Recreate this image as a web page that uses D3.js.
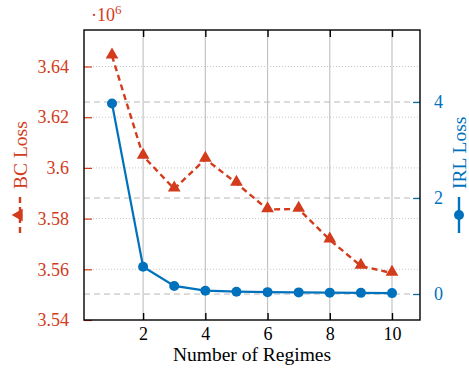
<!DOCTYPE html>
<html>
<head>
<meta charset="utf-8">
<script src="https://cdn.jsdelivr.net/npm/d3@7"></script>
<style>
  body { margin: 0; background: #fff; }
  text { font-family: "Liberation Serif", "Times New Roman", serif; }
</style>
</head>
<body>
<div id="chart"></div>
<script>
// data
const regimes = [1, 2, 3, 4, 5, 6, 7, 8, 9, 10];
const bcLoss = [3.6442, 3.6047, 3.5917, 3.6035, 3.5940, 3.5836, 3.5838, 3.5716, 3.5613, 3.5585];
const irlLoss = [3.97, 0.57, 0.17, 0.07, 0.05, 0.04, 0.035, 0.03, 0.025, 0.02];
const xTicks = [2, 4, 6, 8, 10];
const bcTicks = [3.54, 3.56, 3.58, 3.60, 3.62, 3.64];
const irlTicks = [0, 2, 4];

const red = "#d23b1b";
const blue = "#0072bd";
const fnt = "Liberation Serif";

const width = 469, height = 377;
const m = {left: 84, right: 49, top: 30, bottom: 57};
const x0 = m.left, x1 = width - m.right, y0 = height - m.bottom, y1 = m.top;

const svg = d3.select("#chart").append("svg")
  .attr("width", width)
  .attr("height", height);

const x = d3.scaleLinear().domain([0.1, 10.9]).range([x0, x1]);
const yL = d3.scaleLinear().domain([3.54, 3.6544]).range([y0, y1]);
const yR = d3.scaleLinear().domain([-0.54, 5.5]).range([y0, y1]);

// grid
svg.append("g").selectAll("line")
  .data(xTicks).enter().append("line")
  .attr("x1", d => x(d)).attr("x2", d => x(d))
  .attr("y1", y1).attr("y2", y0)
  .attr("stroke", "#c4c4c4").attr("stroke-width", 1.2);

svg.append("g").selectAll("line")
  .data(bcTicks.slice(1)).enter().append("line")
  .attr("x1", x0).attr("x2", x1)
  .attr("y1", d => yL(d)).attr("y2", d => yL(d))
  .attr("stroke", "#c8c8c8").attr("stroke-width", 1)
  .attr("stroke-dasharray", "1,2");

svg.append("g").selectAll("line")
  .data(irlTicks).enter().append("line")
  .attr("x1", x0).attr("x2", x1)
  .attr("y1", d => yR(d)).attr("y2", d => yR(d))
  .attr("stroke", "#b8b8b8").attr("stroke-width", 1)
  .attr("stroke-dasharray", "6,4");

// series
const tri = d3.symbol().type(d3.symbolTriangle).size(70);

svg.append("path")
  .datum(regimes)
  .attr("fill", "none")
  .attr("stroke", red)
  .attr("stroke-width", 2.4)
  .attr("stroke-dasharray", "6,4")
  .attr("d", d3.line().x(d => x(d)).y((d, i) => yL(bcLoss[i])));

svg.append("g").selectAll("path")
  .data(regimes).enter().append("path")
  .attr("d", tri)
  .attr("transform", (d, i) => `translate(${x(d)},${yL(bcLoss[i]) - 1})`)
  .attr("fill", red);

svg.append("path")
  .datum(regimes)
  .attr("fill", "none")
  .attr("stroke", blue)
  .attr("stroke-width", 2.2)
  .attr("d", d3.line().x(d => x(d)).y((d, i) => yR(irlLoss[i])));

svg.append("g").selectAll("circle")
  .data(regimes).enter().append("circle")
  .attr("cx", d => x(d))
  .attr("cy", (d, i) => yR(irlLoss[i]))
  .attr("r", 5)
  .attr("fill", blue);

// axes
const axBottom = svg.append("g")
  .attr("transform", `translate(0,${y0})`)
  .call(d3.axisBottom(x).tickValues(xTicks).tickSizeInner(-7).tickSizeOuter(0).tickPadding(7));
const axTop = svg.append("g")
  .attr("transform", `translate(0,${y1})`)
  .call(d3.axisTop(x).tickValues(xTicks).tickSizeInner(-7).tickSizeOuter(0).tickFormat(""));
[axBottom, axTop].forEach(g => {
  g.attr("font-family", fnt);
  g.select(".domain").remove();
  g.selectAll("line").attr("stroke", "#000").attr("stroke-width", 1.4);
  g.selectAll("text").attr("font-size", 18).attr("fill", "#000");
});

const axLeft = svg.append("g")
  .attr("transform", `translate(${x0},0)`)
  .call(d3.axisLeft(yL).tickValues(bcTicks).tickSizeInner(-8).tickSizeOuter(0).tickPadding(15)
    .tickFormat(d => d3.format(".2f")(d).replace(/0$/, "")));
axLeft.attr("font-family", fnt);
axLeft.select(".domain").remove();
axLeft.selectAll("line").attr("stroke", red).attr("stroke-width", 1.2);
axLeft.selectAll("text").attr("font-size", 18).attr("fill", red);

const axRight = svg.append("g")
  .attr("transform", `translate(${x1},0)`)
  .call(d3.axisRight(yR).tickValues(irlTicks).tickSizeInner(-7).tickSizeOuter(0).tickPadding(14)
    .tickFormat(d3.format("d")));
axRight.attr("font-family", fnt);
axRight.select(".domain").remove();
axRight.selectAll("line").attr("stroke", blue).attr("stroke-width", 1.2);
axRight.selectAll("text").attr("font-size", 18).attr("fill", blue);

// frame
svg.append("rect")
  .attr("x", x0).attr("y", y1)
  .attr("width", x1 - x0).attr("height", y0 - y1)
  .attr("fill", "none").attr("stroke", "#000").attr("stroke-width", 1.4);

// scale factor
const sf = svg.append("text")
  .attr("x", 91).attr("y", 21)
  .attr("fill", red).attr("font-size", 18).attr("font-family", fnt);
sf.append("tspan").text("·10");
sf.append("tspan").attr("dy", -7).attr("font-size", 13).text("6");

// x label
svg.append("text")
  .attr("x", (x0 + x1) / 2).attr("y", 361)
  .attr("text-anchor", "middle")
  .attr("font-size", 19.5).attr("font-family", fnt)
  .text("Number of Regimes");

// y labels with legend images
function yLabel(cx, color, label, marker) {
  const g = svg.append("g")
    .attr("transform", `translate(${cx},${(y0 + y1) / 2}) rotate(-90)`);
  const lg = g.append("g").attr("transform", "translate(-58,0)");
  const ln = lg.append("line")
    .attr("x1", 0).attr("x2", 36).attr("y1", 0).attr("y2", 0)
    .attr("stroke", color).attr("stroke-width", 2.4);
  if (marker === "tri") {
    ln.attr("stroke-dasharray", "6,4");
    lg.append("path").attr("d", tri).attr("transform", "translate(18,-1)").attr("fill", color);
  } else {
    lg.append("circle").attr("cx", 18).attr("cy", 0).attr("r", 5).attr("fill", color);
  }
  g.append("text")
    .attr("x", -14).attr("y", 0).attr("dy", "0.35em")
    .attr("fill", color).attr("font-size", 19.5).attr("font-family", fnt)
    .text(label);
}
yLabel(20, red, "BC Loss", "tri");
yLabel(459, blue, "IRL Loss", "dot");
</script>
</body>
</html>
